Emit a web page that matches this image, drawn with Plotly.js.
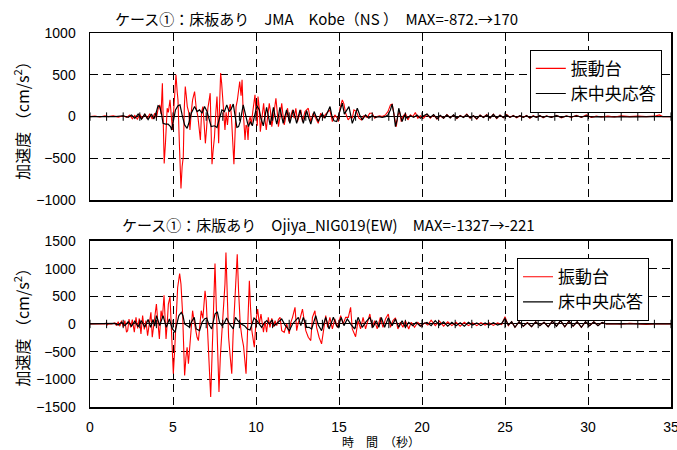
<!DOCTYPE html>
<html>
<head>
<meta charset="utf-8">
<script src="https://cdn.plot.ly/plotly-3.0.1.min.js"></script>
<style>html,body{margin:0;padding:0;background:#fff}#chart{width:677px;height:450px}</style>
</head>
<body>
<div id="chart"></div>
<script>
// ---- data: [time (s), acceleration (cm/s^2)] ----
const kobeTable = [[0,0],[0.3,5],[0.6,-5],[0.9,10],[1.1,0],[1.4,8],[1.7,-6],[2.0,10],[2.2,-10],[2.4,20],[2.55,-25],[2.7,15],[2.85,-30],[3.0,25],[3.15,-20],[3.3,30],[3.45,-25],[3.6,35],[3.75,-30],[3.9,40],[4.0,-20],[4.1,90],[4.2,140],[4.28,30],[4.36,400],[4.42,0],[4.47,-560],[4.55,-300],[4.65,100],[4.72,50],[4.82,200],[4.9,0],[4.97,-160],[5.05,100],[5.12,350],[5.18,500],[5.25,300],[5.3,200],[5.38,-300],[5.48,-860],[5.55,-600],[5.62,-480],[5.68,100],[5.74,360],[5.8,250],[5.86,120],[5.95,50],[6.02,-160],[6.1,50],[6.18,200],[6.3,300],[6.4,100],[6.5,0],[6.58,-200],[6.65,-280],[6.72,50],[6.8,120],[6.88,-100],[6.95,-320],[7.02,-150],[7.1,100],[7.18,200],[7.24,280],[7.3,-200],[7.35,-570],[7.42,-400],[7.5,-240],[7.58,50],[7.65,240],[7.7,0],[7.75,-320],[7.8,100],[7.87,520],[7.93,400],[8.0,200],[8.07,0],[8.13,-160],[8.2,50],[8.28,-100],[8.35,50],[8.45,150],[8.52,0],[8.6,-320],[8.67,-570],[8.74,-200],[8.8,120],[8.88,200],[8.95,300],[9.02,420],[9.1,250],[9.16,440],[9.22,100],[9.28,-100],[9.34,-280],[9.4,-100],[9.46,-120],[9.52,-280],[9.58,-50],[9.65,0],[9.72,-100],[9.8,50],[9.88,200],[9.94,260],[10.0,50],[10.08,-110],[10.12,240],[10.2,100],[10.26,-180],[10.36,0],[10.46,160],[10.55,-50],[10.62,-160],[10.7,0],[10.8,160],[10.88,50],[10.95,-120],[11.05,0],[11.2,220],[11.28,50],[11.35,-120],[11.45,0],[11.55,160],[11.62,30],[11.7,-100],[11.8,0],[11.9,100],[12.0,-60],[12.1,20],[12.2,80],[12.3,-20],[12.4,100],[12.5,-60],[12.6,0],[12.7,80],[12.8,-60],[12.95,60],[13.15,100],[13.3,-60],[13.45,40],[13.6,-20],[13.75,-80],[13.9,40],[14.05,-10],[14.2,30],[14.45,80],[14.6,-60],[14.75,20],[14.9,-20],[14.96,-60],[15.06,100],[15.2,200],[15.3,150],[15.4,40],[15.55,-40],[15.7,0],[15.8,-20],[15.9,80],[16.05,60],[16.2,-20],[16.35,-40],[16.5,10],[16.7,-10],[16.85,40],[17.0,40],[17.15,-20],[17.3,0],[17.45,10],[17.6,0],[17.8,20],[17.95,60],[18.1,140],[18.2,150],[18.3,20],[18.45,-120],[18.55,20],[18.65,60],[18.75,-60],[18.85,0],[19.0,40],[19.15,-40],[19.3,20],[19.45,0],[19.6,48],[19.75,-20],[19.9,10],[20.1,-20],[20.3,30],[20.5,-20],[20.7,20],[20.9,-30],[21.1,10],[21.3,-20],[21.5,25],[21.7,-15],[21.9,20],[22.1,-25],[22.3,15],[22.5,-10],[22.7,30],[22.9,-20],[23.1,10],[23.3,-30],[23.5,20],[23.7,-10],[23.9,25],[24.1,-20],[24.3,30],[24.5,-25],[24.7,20],[24.9,-15],[25.1,25],[25.3,-10],[25.5,15],[25.7,-15],[25.9,10],[26.1,-10],[26.3,15],[26.5,-20],[26.7,10],[26.9,-10],[27.1,15],[27.3,-15],[27.5,10],[27.8,-10],[28.1,15],[28.4,-15],[28.7,10],[29.0,-10],[29.3,15],[29.6,-10],[29.9,20],[30.2,-10],[30.5,5],[30.8,-5],[31.2,5],[31.6,-5],[32.0,10],[32.5,0],[33.0,5],[33.5,0],[34.0,5],[34.3,20],[34.5,0],[35,0]];

const kobeFloor = [[0,0],[0.5,0],[1.0,5],[1.5,0],[2.0,10],[2.3,-10],[2.5,20],[2.7,-20],[2.9,30],[3.1,-30],[3.3,30],[3.5,-35],[3.7,30],[3.85,-30],[4.0,60],[4.1,130],[4.2,120],[4.3,40],[4.4,-80],[4.55,-90],[4.7,-90],[4.85,-120],[4.92,-160],[5.0,-60],[5.15,80],[5.3,130],[5.42,140],[5.55,20],[5.7,-100],[5.85,-140],[5.95,-80],[6.1,40],[6.3,120],[6.45,60],[6.6,80],[6.75,40],[6.9,120],[7.05,60],[7.2,-40],[7.3,-120],[7.5,-110],[7.65,-130],[7.8,-20],[7.95,80],[8.1,60],[8.24,140],[8.38,60],[8.5,90],[8.63,150],[8.75,-40],[8.85,-130],[8.95,-120],[9.05,-60],[9.23,140],[9.38,20],[9.54,-120],[9.66,-60],[9.78,-110],[9.9,0],[10.06,130],[10.2,80],[10.3,-20],[10.44,-110],[10.55,0],[10.64,110],[10.75,0],[10.85,-100],[10.95,0],[11.05,110],[11.15,0],[11.25,-90],[11.35,0],[11.44,110],[11.55,0],[11.64,-80],[11.74,0],[11.84,80],[11.94,0],[12.04,-80],[12.14,0],[12.24,80],[12.35,0],[12.45,-80],[12.55,0],[12.65,80],[12.75,0],[12.85,-80],[12.95,0],[13.05,70],[13.18,-20],[13.3,-90],[13.42,0],[13.5,60],[13.62,0],[13.75,-60],[13.88,0],[14.0,30],[14.15,-20],[14.3,40],[14.46,120],[14.58,0],[14.7,-50],[14.86,-60],[14.97,20],[15.1,120],[15.2,160],[15.32,30],[15.45,80],[15.6,120],[15.7,20],[15.8,-80],[15.95,0],[16.1,100],[16.25,20],[16.4,-40],[16.6,20],[16.8,-20],[17.0,10],[17.2,-10],[17.4,0],[17.6,-10],[17.8,0],[17.95,20],[18.1,80],[18.2,150],[18.3,40],[18.4,-120],[18.5,-40],[18.6,100],[18.7,20],[18.8,-60],[18.95,20],[19.1,-20],[19.3,10],[19.5,-10],[19.7,20],[19.9,-20],[20.1,10],[20.3,30],[20.5,-10],[20.7,25],[20.9,-25],[21.1,15],[21.3,-20],[21.5,20],[21.7,-15],[21.9,20],[22.1,-20],[22.3,10],[22.5,-10],[22.7,25],[22.9,-15],[23.1,10],[23.3,-25],[23.5,15],[23.7,-10],[23.9,20],[24.1,-15],[24.3,25],[24.5,-20],[24.7,15],[24.9,-10],[25.1,20],[25.3,-10],[25.5,10],[25.7,-10],[25.9,10],[26.1,-10],[26.3,10],[26.5,-15],[26.7,5],[26.9,-10],[27.1,10],[27.3,-10],[27.5,5],[27.8,-10],[28.1,10],[28.4,-10],[28.7,5],[29.0,-5],[29.3,10],[29.6,-5],[29.9,10],[30.2,-5],[30.6,0],[31,-5],[32,0],[33,-3],[34,0],[35,0]];

const ojiyaTable = [[0,0],[0.5,0],[0.9,0],[1.0,20],[1.05,-20],[1.1,0],[1.3,0],[1.5,20],[1.6,-30],[1.7,40],[1.8,-40],[1.9,60],[2.0,-50],[2.1,60],[2.2,-150],[2.27,-120],[2.35,90],[2.45,-60],[2.55,80],[2.67,-150],[2.77,120],[2.87,-80],[2.97,100],[3.07,-180],[3.17,150],[3.27,-100],[3.37,60],[3.47,-210],[3.57,50],[3.67,210],[3.75,-240],[3.85,0],[3.92,200],[4.0,360],[4.08,60],[4.18,-270],[4.28,240],[4.36,100],[4.46,520],[4.52,100],[4.58,-270],[4.65,0],[4.72,360],[4.82,490],[4.9,-100],[4.95,-480],[5.02,-900],[5.1,-480],[5.2,300],[5.28,660],[5.4,910],[5.48,720],[5.58,180],[5.63,-480],[5.7,-930],[5.78,-600],[5.85,-420],[5.93,-720],[6.0,-400],[6.08,-180],[6.18,240],[6.27,50],[6.35,-100],[6.45,-240],[6.53,-300],[6.6,-100],[6.7,240],[6.8,100],[6.93,600],[7.0,420],[7.1,-200],[7.2,-700],[7.27,-1320],[7.33,-780],[7.4,0],[7.47,720],[7.53,1090],[7.6,400],[7.66,-240],[7.77,-1230],[7.85,-600],[7.95,-150],[8.05,300],[8.13,720],[8.19,1290],[8.27,360],[8.35,-240],[8.45,-600],[8.54,-900],[8.62,-200],[8.74,540],[8.87,1260],[8.95,600],[9.05,0],[9.15,-240],[9.25,-400],[9.4,-900],[9.46,-300],[9.52,180],[9.6,780],[9.67,300],[9.75,-120],[9.9,-420],[10.0,60],[10.1,270],[10.2,0],[10.3,180],[10.45,-150],[10.54,50],[10.64,-150],[10.74,120],[10.84,-60],[10.95,100],[11.05,-50],[11.15,60],[11.25,-30],[11.35,80],[11.45,120],[11.55,-120],[11.7,-150],[11.85,0],[12.0,-180],[12.1,30],[12.2,120],[12.35,300],[12.45,-120],[12.55,30],[12.65,90],[12.8,270],[12.9,60],[13.0,-120],[13.15,-240],[13.3,-300],[13.4,120],[13.55,240],[13.65,-60],[13.8,-240],[13.95,-360],[14.05,-120],[14.2,150],[14.32,-60],[14.45,120],[14.6,-90],[14.75,90],[14.9,-60],[15.1,150],[15.25,0],[15.4,120],[15.56,120],[15.7,300],[15.8,-90],[16.0,-230],[16.15,60],[16.3,-90],[16.45,120],[16.6,-90],[16.86,180],[17.0,-60],[17.15,60],[17.3,-90],[17.49,120],[17.65,-60],[17.8,90],[17.97,180],[18.1,-60],[18.25,60],[18.4,108],[18.55,-90],[18.7,30],[18.85,-60],[19.0,60],[19.2,-90],[19.35,30],[19.55,-60],[19.75,30],[19.95,-40],[20.15,20],[20.35,-20],[20.55,70],[20.8,-30],[21.05,50],[21.3,-40],[21.55,40],[21.8,-30],[22.05,30],[22.3,-40],[22.55,30],[22.8,-30],[23.05,20],[23.3,-30],[23.55,25],[23.8,-20],[24.05,20],[24.3,-25],[24.55,20],[24.8,-10],[25.0,130],[25.2,-30],[25.4,40],[25.6,-60],[25.85,40],[26.1,-40],[26.35,25],[26.6,-50],[26.85,40],[27.1,-30],[27.35,30],[27.6,-50],[27.85,50],[28.1,-40],[28.35,60],[28.6,-50],[28.85,50],[29.1,-40],[29.35,40],[29.6,-60],[29.85,40],[30.1,-30],[30.35,40],[30.6,-30],[30.85,30],[31.1,0],[31.6,5],[32.0,-5],[32.5,10],[33.0,0],[33.5,-8],[34.0,0],[34.9,10],[35,0]];

const ojiyaFloor = [[0,0],[1.3,0],[1.5,10],[1.7,-20],[1.9,30],[2.1,-30],[2.3,40],[2.5,-40],[2.7,50],[2.9,-50],[3.1,60],[3.3,-60],[3.5,80],[3.65,-60],[3.8,80],[3.9,-40],[4.0,150],[4.1,60],[4.2,-30],[4.4,150],[4.5,20],[4.6,-60],[4.78,90],[4.95,-80],[5.12,-150],[5.25,50],[5.35,150],[5.5,210],[5.6,150],[5.7,0],[5.85,-30],[6.0,-60],[6.1,30],[6.28,120],[6.4,-90],[6.6,-120],[6.75,30],[6.9,90],[7.03,108],[7.15,0],[7.33,-90],[7.45,60],[7.53,180],[7.67,220],[7.8,30],[7.95,-30],[8.1,20],[8.23,108],[8.4,0],[8.63,-90],[8.76,120],[8.9,60],[9.1,0],[9.3,-30],[9.48,-90],[9.64,-108],[9.76,0],[9.88,108],[10.05,60],[10.2,0],[10.34,-60],[10.5,20],[10.65,60],[10.8,0],[10.95,70],[11.1,-30],[11.3,20],[11.55,90],[11.75,-20],[12.01,-120],[12.2,0],[12.4,60],[12.55,120],[12.7,-30],[12.85,120],[13.05,-60],[13.2,-60],[13.35,-90],[13.6,150],[13.75,-20],[13.95,-120],[14.2,120],[14.4,-90],[14.66,120],[14.85,-30],[14.95,-60],[15.13,120],[15.3,-30],[15.5,90],[15.75,-20],[15.94,-90],[16.15,120],[16.4,-60],[16.6,30],[16.86,120],[17.05,-60],[17.25,60],[17.4,-60],[17.55,120],[17.75,-60],[17.97,110],[18.2,-30],[18.4,90],[18.6,-60],[18.8,60],[19.0,-60],[19.2,30],[19.45,-30],[19.65,30],[19.9,-40],[20.1,10],[20.3,30],[20.55,-30],[20.8,60],[21.05,-20],[21.3,40],[21.55,-40],[21.8,30],[22.05,-30],[22.3,20],[22.55,-40],[22.8,30],[23.05,-20],[23.3,20],[23.55,-30],[23.8,20],[24.05,-20],[24.3,25],[24.55,-20],[24.8,10],[25.0,100],[25.2,-20],[25.4,40],[25.6,-60],[25.85,40],[26.1,-40],[26.35,20],[26.6,-50],[26.85,40],[27.1,-30],[27.35,30],[27.6,-50],[27.85,50],[28.1,-40],[28.35,60],[28.6,-50],[28.85,50],[29.1,-40],[29.35,40],[29.6,-60],[29.85,40],[30.1,-30],[30.35,40],[30.6,-30],[30.85,30],[31.1,0],[31.5,0],[35,0]];

const tickSeconds = [0,1,2,3,4,5,6,7,8,9,10,11,12,13,14,15,16,17,18,19,20,21,22,23,24,25,26,27,28,29,30,31,32,33,34,35];
const seriesNames = ['振動台','床中央応答'];
const titles = ['ケース①：床板あり　JMA　Kobe（NS ）　MAX=-872.→170',
                'ケース①：床版あり　Ojiya_NIG019(EW)　MAX=-1327→-221'];
const yTitle = '加速度 （cm/s<sup>2</sup>）';
const xTitle = '時　間　（秒）';

const col = a => [a.map(p => p[0]), a.map(p => p[1])];
const FONT = 'Liberation Sans, Arial, Noto Sans CJK JP, sans-serif';
const JFONT = 'Noto Sans CJK JP, Liberation Sans, sans-serif';

function line(arr, name, color, width, xa, ya, legend, show) {
  const [x, y] = col(arr);
  return {x, y, type: 'scatter', mode: 'lines', name, xaxis: xa, yaxis: ya,
          line: {color, width}, legend, showlegend: show};
}
function zeroTicks(xa, ya) {
  return {x: tickSeconds, y: tickSeconds.map(() => 0), type: 'scatter', mode: 'markers',
          xaxis: xa, yaxis: ya, showlegend: false, hoverinfo: 'skip',
          marker: {symbol: 'line-ns', size: 6, line: {color: '#000', width: 1}}};
}

const traces = [
  line(kobeTable, seriesNames[0], '#ff0000', 1.1, 'x', 'y', 'legend', true),
  line(kobeFloor, seriesNames[1], '#000000', 1.2, 'x', 'y', 'legend', true),
  zeroTicks('x', 'y'),
  line(ojiyaTable, seriesNames[0], '#ff0000', 1.1, 'x2', 'y2', 'legend2', true),
  line(ojiyaFloor, seriesNames[1], '#000000', 1.2, 'x2', 'y2', 'legend2', true),
  zeroTicks('x2', 'y2')
];

const gridCommon = {showgrid: true, gridcolor: '#000', griddash: '8px,5px', gridwidth: 1,
  showline: true, mirror: true, linecolor: '#000', linewidth: 1.5,
  zeroline: true, zerolinecolor: '#000', zerolinewidth: 1,
  ticks: 'outside', ticklen: 10, tickcolor: 'rgba(0,0,0,0)',
  tickfont: {family: FONT, size: 14, color: '#000'}};

const layout = {
  width: 677, height: 450,
  margin: {l: 90, r: 6, t: 33, b: 43},
  paper_bgcolor: '#fff', plot_bgcolor: '#fff',
  font: {family: FONT, color: '#000'},
  xaxis: Object.assign({}, gridCommon, {anchor: 'y', range: [0, 35], dtick: 5, showticklabels: false}),
  yaxis: Object.assign({}, gridCommon, {domain: [0.553, 1], range: [-1000, 1000], dtick: 500}),
  xaxis2: Object.assign({}, gridCommon, {anchor: 'y2', range: [0, 35], dtick: 5, ticklen: 7,
                                          ticklabeloverflow: 'allow'}),
  yaxis2: Object.assign({}, gridCommon, {domain: [0, 0.444], range: [-1500, 1500], dtick: 500}),
  legend: {x: 0.757, y: 0.955, xanchor: 'left', yanchor: 'top', bgcolor: '#fff',
           bordercolor: '#000', borderwidth: 1, font: {family: JFONT, size: 17, color: '#000'}},
  legend2: {x: 0.735, y: 0.398, xanchor: 'left', yanchor: 'top', bgcolor: '#fff',
           bordercolor: '#000', borderwidth: 1, font: {family: JFONT, size: 17, color: '#000'}},
  annotations: [
    {text: titles[0], xref: 'paper', yref: 'paper', x: 0.389, y: 1.040, showarrow: false,
     xanchor: 'center', yanchor: 'middle', font: {family: JFONT, size: 15, color: '#000'}},
    {text: titles[1], xref: 'paper', yref: 'paper', x: 0.41, y: 0.489, showarrow: false,
     xanchor: 'center', yanchor: 'middle', font: {family: JFONT, size: 15, color: '#000'}},
    {text: yTitle, xref: 'paper', yref: 'paper', x: -0.117, y: 0.776, textangle: -90, showarrow: false,
     xanchor: 'center', yanchor: 'middle', font: {family: JFONT, size: 16, color: '#000'}},
    {text: yTitle, xref: 'paper', yref: 'paper', x: -0.117, y: 0.223, textangle: -90, showarrow: false,
     xanchor: 'center', yanchor: 'middle', font: {family: JFONT, size: 16, color: '#000'}},
    {text: xTitle, xref: 'paper', yref: 'paper', x: 0.5, y: -0.092, showarrow: false,
     xanchor: 'center', yanchor: 'middle', font: {family: JFONT, size: 12, color: '#000'}}
  ]
};

Plotly.newPlot('chart', traces, layout, {staticPlot: true, displayModeBar: false});
</script>
</body>
</html>
